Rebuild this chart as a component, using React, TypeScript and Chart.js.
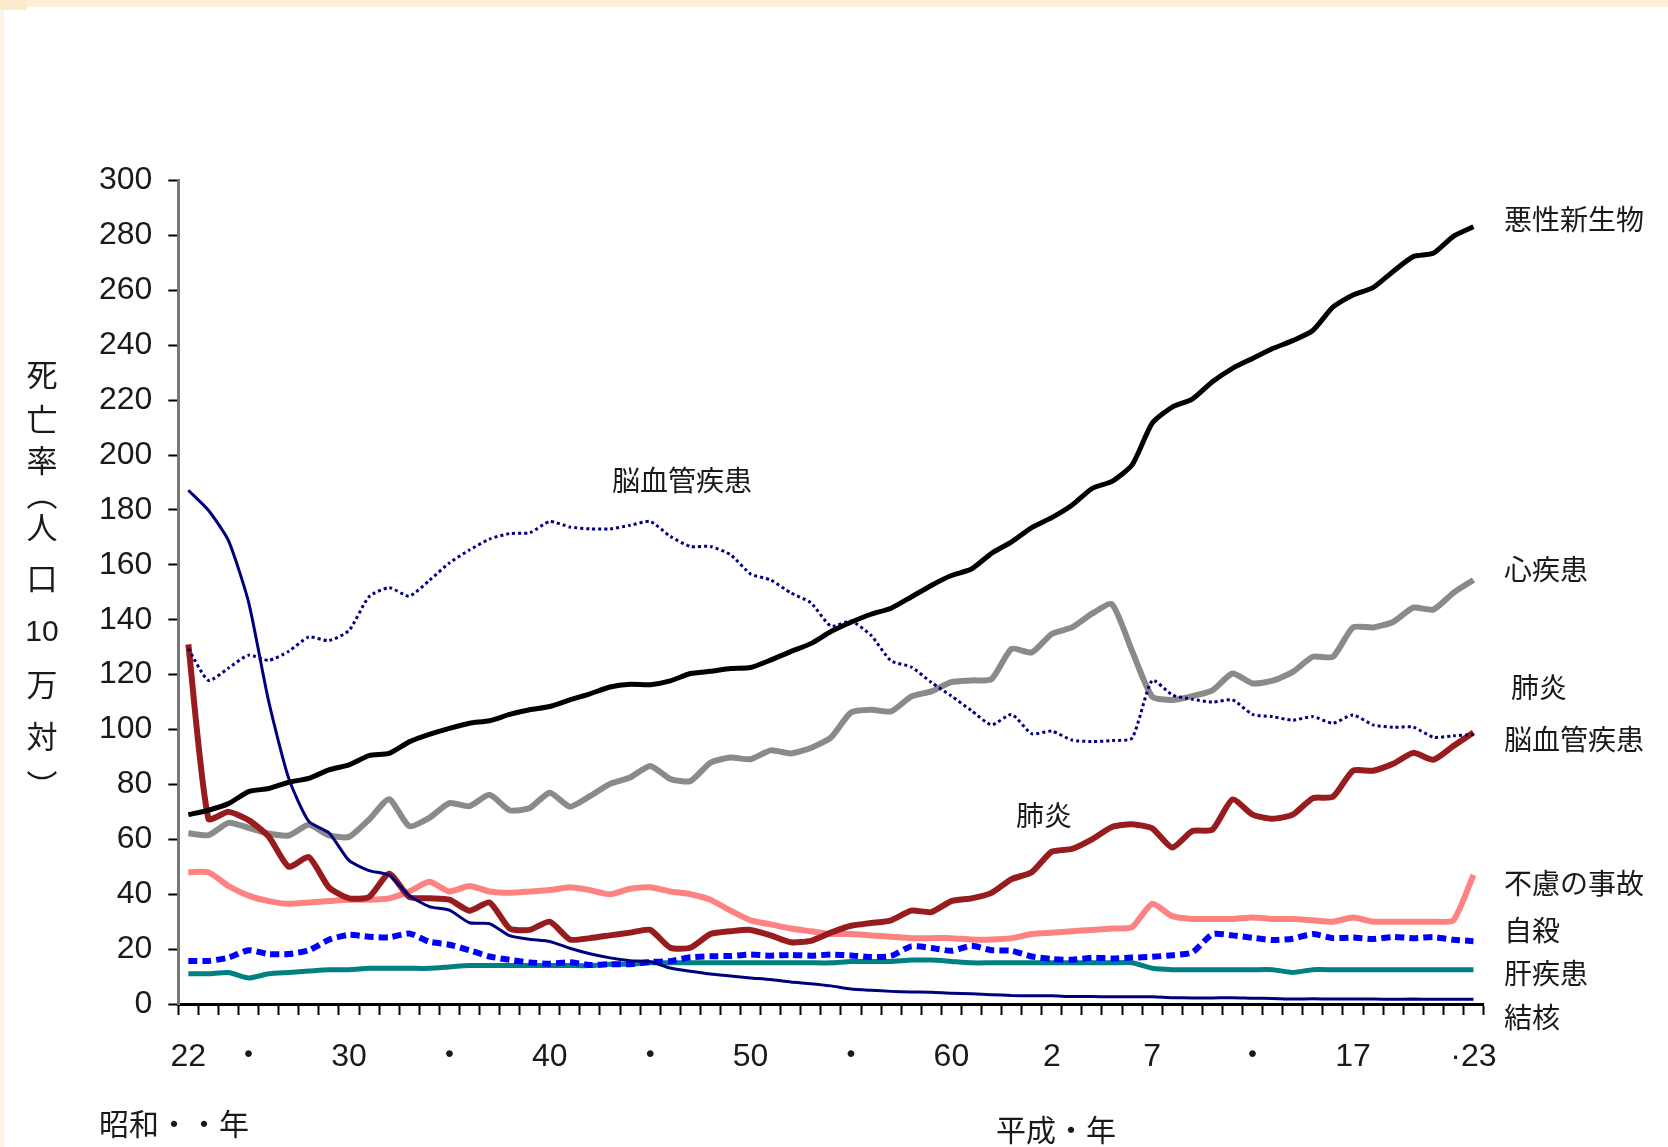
import React, { useEffect, useRef } from 'react';
import { Chart, registerables } from 'chart.js';

Chart.register(...registerables);

// ---------- data ----------
const years = [
  1947, 1948, 1949, 1950, 1951, 1952, 1953, 1954, 1955, 1956,
  1957, 1958, 1959, 1960, 1961, 1962, 1963, 1964, 1965, 1966,
  1967, 1968, 1969, 1970, 1971, 1972, 1973, 1974, 1975, 1976,
  1977, 1978, 1979, 1980, 1981, 1982, 1983, 1984, 1985, 1986,
  1987, 1988, 1989, 1990, 1991, 1992, 1993, 1994, 1995, 1996,
  1997, 1998, 1999, 2000, 2001, 2002, 2003, 2004, 2005, 2006,
  2007, 2008, 2009, 2010, 2011,
];

const xTickLabels: Record<number, string> = {
  1947: '22', 1950: '・', 1955: '30', 1960: '・', 1965: '40', 1970: '・',
  1975: '50', 1980: '・', 1985: '60', 1990: '2', 1995: '7', 2000: '・',
  2005: '17', 2011: '·23',
};

const yTicks = [0, 20, 40, 60, 80, 100, 120, 140, 160, 180, 200, 220, 240, 260, 280, 300];

// 悪性新生物
const cancer = [
  69.0, 70.6, 73.0, 77.4, 78.5, 80.8, 82.2, 85.3, 87.1, 90.5,
  91.3, 95.5, 98.2, 100.4, 102.3, 103.2, 105.5, 107.2, 108.4, 110.8,
  113.0, 115.5, 116.5, 116.3, 117.7, 120.4, 121.2, 122.2, 122.6, 125.3,
  128.4, 131.3, 135.7, 139.1, 142.0, 144.2, 148.3, 152.5, 156.1, 158.5,
  164.2, 168.4, 173.6, 177.2, 181.7, 187.8, 190.4, 196.4, 211.6, 217.5,
  220.4, 226.7, 231.6, 235.2, 238.8, 241.7, 245.4, 253.9, 258.3, 261.0,
  266.9, 272.3, 273.5, 279.7, 283.2,
];
// 心疾患
const heart = [
  62.2, 61.5, 66.0, 64.2, 62.1, 61.4, 65.3, 61.4, 60.9, 67.2,
  74.6, 64.8, 67.8, 73.2, 72.1, 76.2, 70.6, 71.4, 77.0, 71.9,
  75.7, 80.2, 82.5, 86.7, 82.0, 81.2, 87.9, 89.8, 89.2, 92.4,
  91.3, 93.3, 97.1, 106.2, 107.2, 106.6, 112.0, 113.9, 117.3, 117.9,
  118.4, 129.4, 128.1, 134.8, 137.2, 142.2, 145.6, 128.6, 112.0, 110.8,
  112.2, 114.3, 120.4, 116.8, 117.8, 121.0, 126.5, 126.5, 137.2, 137.2,
  139.2, 144.4, 143.7, 149.8, 154.5,
];
// 脳血管疾患
const cerebro = [
  129.4, 117.9, 122.4, 127.1, 125.2, 128.5, 133.7, 132.4, 136.1, 148.4,
  151.7, 148.6, 154.3, 160.7, 165.4, 169.4, 171.4, 171.7, 175.8, 173.8,
  173.1, 173.1, 174.4, 175.8, 170.4, 166.7, 166.7, 163.7, 156.7, 154.5,
  149.8, 146.2, 137.7, 139.5, 134.3, 125.0, 122.8, 117.2, 112.2, 106.9,
  101.7, 105.5, 98.5, 99.4, 96.2, 95.6, 96.0, 96.9, 117.9, 112.6,
  111.0, 110.0, 110.8, 105.5, 104.7, 103.4, 104.7, 102.3, 105.3, 101.7,
  100.8, 100.9, 97.2, 97.7, 98.2,
];
// 肺炎
const pneumonia = [
  131, 67.5, 70, 67, 61, 50, 53.5, 42.5, 38.5, 39,
  47.5, 39, 38.5, 38, 34, 37, 27.5, 27, 30, 23.5,
  24, 25, 26, 27, 20.5, 20.5, 25.5, 26.5, 27, 25,
  22.5, 23, 26, 28.5, 29.5, 30.5, 34, 33.5, 37.5, 38.5,
  40.5, 45.5, 48, 55.5, 56.5, 60, 64.5, 65.5, 64, 57,
  63, 63.5, 74.5, 69, 67.5, 69, 75, 75.5, 85, 85,
  87.5, 91.5, 89, 94, 98.9,
];
// 結核
const tuberculosis = [
  187.2, 179.9, 168.8, 146.4, 110.3, 82.2, 66.5, 62.4, 52.3, 48.6,
  46.9, 39.5, 35.5, 34.2, 29.6, 29.3, 24.9, 23.6, 22.8, 20.3,
  18.3, 16.8, 15.8, 15.4, 13.1, 11.9, 10.9, 10.2, 9.5, 8.9,
  8.0, 7.4, 6.6, 5.5, 5.0, 4.6, 4.4, 4.3, 3.9, 3.7,
  3.4, 3.1, 3.0, 3.0, 2.7, 2.7, 2.6, 2.6, 2.6, 2.3,
  2.2, 2.2, 2.3, 2.1, 2.0, 1.8, 1.9, 1.8, 1.8, 1.8,
  1.7, 1.8, 1.7, 1.7, 1.7,
];
// 不慮の事故
const accident = [
  48, 48, 43, 39.5, 37.5, 36.5, 37, 37.5, 38, 38,
  38.5, 41, 44.5, 41, 43, 41, 40.5, 41, 41.5, 42.5,
  41.5, 40, 42, 42.5, 41, 40, 38, 34, 30.5, 29,
  27.5, 26.5, 25.5, 25.5, 25, 24.5, 24, 24, 24, 23.5,
  23.5, 24, 25.5, 26, 26.5, 27, 27.5, 28, 36.5, 32,
  31, 31, 31, 31.5, 31, 31, 30.5, 30, 31.5, 30,
  30, 30, 30, 30.5, 47,
];
// 自殺
const suicide = [
  15.7, 15.7, 16.9, 19.6, 18.2, 18.2, 19.6, 23.4, 25.2, 24.5,
  24.3, 25.7, 22.7, 21.6, 19.6, 17.3, 16.1, 15.1, 14.7, 15.2,
  14.2, 14.5, 14.5, 15.3, 15.6, 17.0, 17.4, 17.5, 18.0, 17.6,
  17.9, 17.6, 18.0, 17.7, 17.1, 17.5, 21.0, 20.4, 19.4, 21.2,
  19.6, 19.4, 17.3, 16.4, 16.1, 16.9, 16.6, 16.9, 17.2, 17.8,
  18.8, 25.4, 25.0, 24.1, 23.3, 23.8, 25.5, 24.0, 24.2, 23.7,
  24.4, 24.0, 24.4, 23.4, 22.9,
];
// 肝疾患
const liver = [
  11, 11, 11.5, 9.5, 11, 11.5, 12, 12.5, 12.5, 13,
  13, 13, 13, 13.5, 14, 14, 14, 14, 14, 14,
  14, 14.5, 14.5, 15, 15, 15, 15, 15, 15, 15,
  15, 15, 15, 15.5, 15.5, 15.5, 16, 16, 15.5, 15,
  15, 15, 15, 15, 15, 15, 15, 15, 13, 12.5,
  12.5, 12.5, 12.5, 12.5, 12.5, 11.5, 12.5, 12.5, 12.5, 12.5,
  12.5, 12.5, 12.5, 12.5, 12.5,
];

const yTitleChars = ['死', '亡', '率', '︵', '人', '口', '10', '万', '対', '︶'];

// ---------- layout / style (kept separate from data) ----------
const W = 1668;
const H = 1147;
const CJK = '"Noto Sans CJK JP", "Liberation Sans", sans-serif';
const NUM = '"Liberation Sans", "Noto Sans CJK JP", sans-serif';
const TEXT_COLOR = '#1a1a1a';

const rightLabels = [
  { text: '悪性新生物', x: 1504, y: 219 },
  { text: '心疾患', x: 1504, y: 569 },
  { text: '肺炎', x: 1511, y: 687 },
  { text: '脳血管疾患', x: 1504, y: 739 },
  { text: '不慮の事故', x: 1504, y: 883 },
  { text: '自殺', x: 1504, y: 930 },
  { text: '肝疾患', x: 1504, y: 973 },
  { text: '結核', x: 1504, y: 1017 },
];
const innerLabels = [
  { text: '脳血管疾患', x: 612, y: 480 },
  { text: '肺炎', x: 1016, y: 815 },
];
const eraLabels = [
  { text: '昭和・・年', x: 99, y: 1124 },
  { text: '平成・年', x: 996, y: 1130 },
];
const yTitleX = 42;
const yTitleY = [374, 419, 460, 494, 527, 578, 633, 684, 736, 785];

const textPlugin = {
  id: 'textPlugin',
  beforeDraw(chart: any) {
    const ctx = chart.ctx;
    ctx.save();
    ctx.fillStyle = '#ffffff';
    ctx.fillRect(0, 0, W, H);
    ctx.fillStyle = '#fbefd6';
    ctx.fillRect(0, 0, W, 7);
    ctx.fillStyle = '#fcf3e2';
    ctx.fillRect(0, 0, 4, H);
    ctx.fillStyle = '#faebcc';
    ctx.fillRect(0, 0, 27, 10);
    ctx.restore();
  },
  afterDraw(chart: any) {
    const ctx = chart.ctx;
    ctx.save();
    ctx.fillStyle = TEXT_COLOR;
    ctx.textBaseline = 'middle';
    ctx.textAlign = 'left';
    ctx.font = `28px ${CJK}`;
    for (const l of rightLabels) ctx.fillText(l.text, l.x, l.y);
    for (const l of innerLabels) ctx.fillText(l.text, l.x, l.y);
    ctx.font = `30px ${CJK}`;
    for (const l of eraLabels) ctx.fillText(l.text, l.x, l.y);
    ctx.textAlign = 'center';
    ctx.font = `31px ${CJK}`;
    yTitleChars.forEach((c, i) => {
      if (c === '10') ctx.font = `30px ${NUM}`;
      else ctx.font = `31px ${CJK}`;
      ctx.fillText(c, yTitleX, yTitleY[i]);
    });
    ctx.restore();
  },
};

export default function App() {
  const ref = useRef<HTMLCanvasElement>(null);

  useEffect(() => {
    document.body.style.margin = '0';
    const canvas = ref.current;
    if (!canvas) return;
    const line = (label: string, data: number[], color: string, width: number, dash: number[] = []) => ({
      label,
      data,
      borderColor: color,
      backgroundColor: color,
      borderWidth: width,
      borderDash: dash,
      pointRadius: 0,
      fill: false,
      tension: 0.2,
      borderJoinStyle: 'round' as const,
    });

    const chart = new Chart(canvas, {
      type: 'line',
      data: {
        labels: years.map(String),
        datasets: [
          line('悪性新生物', cancer, '#000000', 5),
          line('結核', tuberculosis, '#00007f', 3),
          line('脳血管疾患', cerebro, '#000080', 3, [3, 3]),
          line('肺炎', pneumonia, '#981b1e', 6),
          line('心疾患', heart, '#8a8a8a', 6),
          line('自殺', suicide, '#0000ff', 6, [9, 5]),
          line('不慮の事故', accident, '#ff8282', 6),
          line('肝疾患', liver, '#008080', 5),
        ],
      },
      options: {
        responsive: false,
        animation: false,
        devicePixelRatio: 1,
        layout: { padding: { top: 180.6, right: 184.5, bottom: 43, left: 0 } },
        plugins: {
          legend: { display: false },
          tooltip: { enabled: false },
          title: { display: false },
        },
        scales: {
          x: {
            type: 'category',
            offset: true,
            grid: {
              display: true,
              drawOnChartArea: false,
              drawTicks: true,
              tickLength: 11,
              tickColor: '#000',
              tickWidth: 2,
              offset: true,
            },
            border: { display: true, color: '#000', width: 3 },
            ticks: {
              autoSkip: false,
              maxRotation: 0,
              minRotation: 0,
              padding: 23,
              color: TEXT_COLOR,
              font: { family: NUM, size: 32 },
              callback: (_v: any, i: number) => xTickLabels[years[i]] ?? '',
            },
            afterFit: (s: any) => { s.height = 100; },
          },
          y: {
            min: 0,
            max: 300,
            afterBuildTicks: (s: any) => { s.ticks = yTicks.map((v) => ({ value: v })); },
            grid: {
              display: true,
              drawOnChartArea: false,
              drawTicks: true,
              tickLength: 10,
              tickColor: '#000',
              tickWidth: 2,
            },
            border: { display: true, color: '#777', width: 3 },
            ticks: {
              padding: 16,
              color: TEXT_COLOR,
              font: { family: NUM, size: 32 },
            },
            afterFit: (s: any) => { s.width = 178.3; },
          },
        },
      },
      plugins: [textPlugin],
    });
    return () => chart.destroy();
  }, []);

  return (
    <canvas
      ref={ref}
      width={W}
      height={H}
      style={{ display: 'block', width: W, height: H }}
    />
  );
}
